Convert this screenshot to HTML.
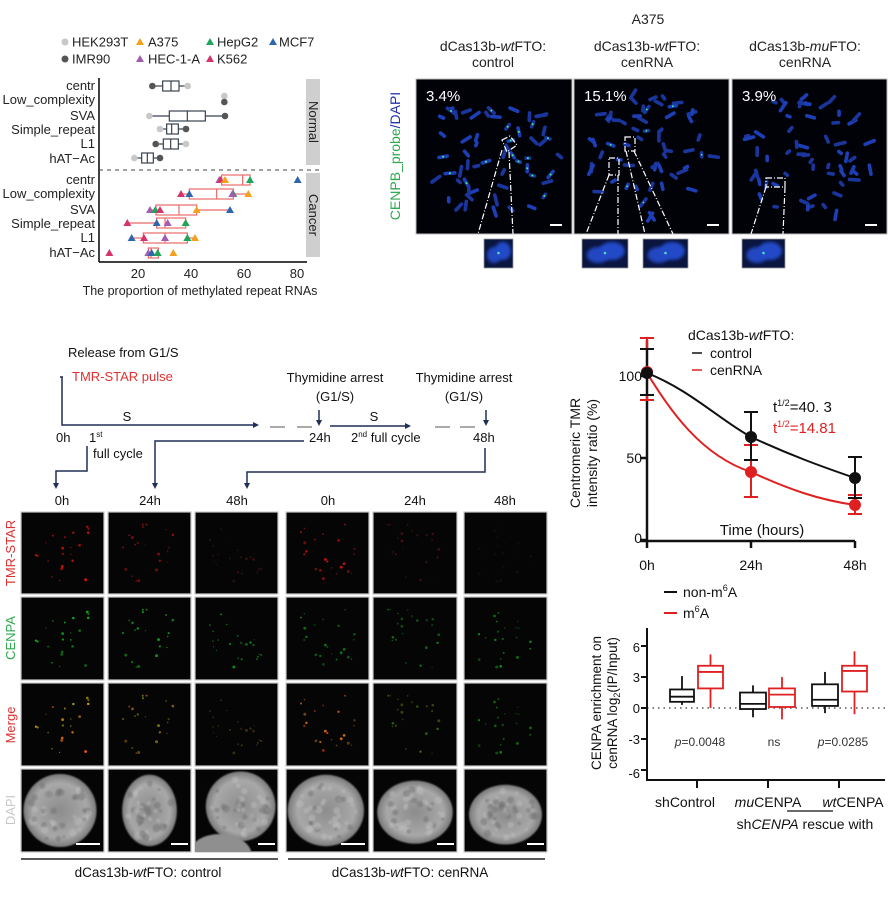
<!DOCTYPE html>
<html><head><meta charset="utf-8">
<style>
html,body{margin:0;padding:0;background:#fff;}
svg{display:block;font-family:"Liberation Sans",Arial,sans-serif;}
</style></head>
<body>
<svg id="s" width="890" height="899" viewBox="0 0 890 899" xmlns="http://www.w3.org/2000/svg">
<defs>
<radialGradient id="nuc" cx="50%" cy="50%" r="50%">
<stop offset="0" stop-color="#8c8c8c"/><stop offset="0.75" stop-color="#a8a8a8"/><stop offset="1" stop-color="#7a7a7a"/>
</radialGradient>
<filter id="bl" x="-20%" y="-20%" width="140%" height="140%"><feGaussianBlur stdDeviation="0.7"/></filter>
<filter id="bl2" x="-50%" y="-50%" width="200%" height="200%"><feGaussianBlur stdDeviation="1.5"/></filter>
</defs>

<!-- ===== Top-left chart ===== -->
<g font-size="13" fill="#222">
<circle cx="65" cy="42" r="3.5" fill="#c8c8c8"/><text x="72" y="46.5">HEK293T</text>
<polygon points="140,38 144,45 136,45" fill="#f5a11c"/><text x="148" y="46.5">A375</text>
<polygon points="210,38 214,45 206,45" fill="#1fa55a"/><text x="217" y="46.5">HepG2</text>
<polygon points="273,38 277,45 269,45" fill="#2f66b0"/><text x="279" y="46.5">MCF7</text>
<circle cx="65" cy="59" r="3.5" fill="#555"/><text x="72" y="63.5">IMR90</text>
<polygon points="140,55 144,62 136,62" fill="#a25cb0"/><text x="148" y="63.5">HEC-1-A</text>
<polygon points="210,55 214,62 206,62" fill="#d6336c"/><text x="217" y="63.5">K562</text>
</g>
<g id="tl"></g>
<line x1="99" y1="78" x2="99" y2="262" stroke="#000" stroke-width="1.5"/>
<line x1="99" y1="262" x2="307" y2="262" stroke="#000" stroke-width="1.5"/>
<line x1="99" y1="170" x2="320" y2="170" stroke="#444" stroke-dasharray="4,4"/>
<rect x="306" y="79" width="14" height="86" fill="#cfcfcf"/>
<rect x="306" y="173" width="14" height="84" fill="#cfcfcf"/>
<text transform="translate(309,122) rotate(90)" text-anchor="middle" font-size="13" fill="#222">Normal</text>
<text transform="translate(309,215) rotate(90)" text-anchor="middle" font-size="13" fill="#222">Cancer</text>
<g font-size="13" fill="#222" text-anchor="end">
<text x="95" y="90">centr</text><text x="95" y="104">Low_complexity</text><text x="95" y="120">SVA</text>
<text x="95" y="134">Simple_repeat</text><text x="95" y="148">L1</text><text x="95" y="163">hAT−Ac</text>
<text x="95" y="184">centr</text><text x="95" y="198">Low_complexity</text><text x="95" y="214">SVA</text>
<text x="95" y="228">Simple_repeat</text><text x="95" y="242">L1</text><text x="95" y="257">hAT−Ac</text>
</g>
<g font-size="13" fill="#222" text-anchor="middle">
<text x="138" y="278">20</text><text x="191" y="278">40</text><text x="244" y="278">60</text><text x="297" y="278">80</text>
<text x="200" y="295" font-size="12.5">The proportion of methylated repeat RNAs</text>
</g>

<!-- ===== Top-right microscopy ===== -->
<g font-size="14" fill="#222" text-anchor="middle">
<text x="648" y="24">A375</text>
<text x="493" y="51">dCas13b-<tspan font-style="italic">wt</tspan>FTO:</text><text x="493" y="67">control</text>
<text x="647" y="51">dCas13b-<tspan font-style="italic">wt</tspan>FTO:</text><text x="647" y="67">cenRNA</text>
<text x="805" y="51">dCas13b-<tspan font-style="italic">mu</tspan>FTO:</text><text x="805" y="67">cenRNA</text>
</g>
<text transform="translate(400,156) rotate(-90)" text-anchor="middle" font-size="14"><tspan fill="#2fa84f">CENPB_probe</tspan><tspan fill="#2233aa">/DAPI</tspan></text>
<g id="tr"></g>

<!-- ===== Timeline schematic ===== -->
<g font-size="13" fill="#111">
<text x="68" y="357">Release from G1/S</text>
<text x="72" y="381" fill="#e03030">TMR-STAR pulse</text>
<text x="335" y="382" text-anchor="middle">Thymidine arrest</text>
<text x="335" y="401" text-anchor="middle">(G1/S)</text>
<text x="464" y="382" text-anchor="middle">Thymidine arrest</text>
<text x="464" y="401" text-anchor="middle">(G1/S)</text>
<text x="127" y="421" text-anchor="middle">S</text>
<text x="374" y="421" text-anchor="middle">S</text>
<text x="56" y="442">0h</text>
<text x="89" y="442">1<tspan font-size="8" dy="-5">st</tspan></text>
<text x="93" y="458">full cycle</text>
<text x="309" y="442">24h</text>
<text x="351" y="442">2<tspan font-size="8" dy="-5">nd</tspan><tspan dy="5">  full cycle</tspan></text>
<text x="473" y="442">48h</text>
</g>
<g stroke="#1f2f55" stroke-width="1.5" fill="none">
<path d="M60 377 H63 M62 377 V425 H256"/>
<path d="M330 426 H408"/>
<path d="M319 410 V423"/><path d="M486 410 V423"/>
<path d="M87 446 V471 H56 V485"/>
<path d="M304 441 H155 V485"/>
<path d="M485 448 V472 H247 V485"/>
</g>
<g fill="#1f2f55">
<polygon points="259,425 253,422 253,428"/><polygon points="411,426 405,423 405,429"/>
<polygon points="319,426 316,420 322,420"/><polygon points="486,426 483,420 489,420"/>
<polygon points="56,489 53,483 59,483"/><polygon points="155,489 152,483 158,483"/><polygon points="247,489 244,483 250,483"/>
</g>
<g stroke="#aaa" stroke-width="2"><line x1="270" y1="427" x2="285" y2="427"/><line x1="297" y1="427" x2="312" y2="427"/><line x1="435" y1="427" x2="450" y2="427"/><line x1="460" y1="427" x2="475" y2="427"/></g>
<g font-size="13" fill="#111" text-anchor="middle">
<text x="62" y="505">0h</text><text x="150" y="505">24h</text><text x="237" y="505">48h</text>
<text x="328" y="505">0h</text><text x="415" y="505">24h</text><text x="505" y="505">48h</text>
</g>
<g font-size="13" text-anchor="middle">
<text transform="translate(15,553) rotate(-90)" fill="#e03030">TMR-STAR</text>
<text transform="translate(15,638) rotate(-90)" fill="#2fa84f">CENPA</text>
<text transform="translate(15,725) rotate(-90)" fill="#e03030">Merge</text>
<text transform="translate(15,810) rotate(-90)" fill="#c8c8c8">DAPI</text>
</g>
<g id="grid"></g>
<line x1="21" y1="859" x2="278" y2="859" stroke="#222" stroke-width="1.5"/>
<line x1="288" y1="859" x2="545" y2="859" stroke="#222" stroke-width="1.5"/>
<g font-size="13.5" fill="#111" text-anchor="middle">
<text x="148" y="877">dCas13b-<tspan font-style="italic">wt</tspan>FTO:  control</text>
<text x="410" y="877">dCas13b-<tspan font-style="italic">wt</tspan>FTO:  cenRNA</text>
</g>

<!-- ===== Right: decay chart ===== -->
<g font-size="14" fill="#111">
<text x="688" y="340">dCas13b-<tspan font-style="italic">wt</tspan>FTO:</text>
<line x1="692" y1="353" x2="702" y2="353" stroke="#111" stroke-width="1.5"/><text x="710" y="358">control</text>
<line x1="692" y1="370" x2="702" y2="370" stroke="#e02020" stroke-width="1.5"/><text x="710" y="375">cenRNA</text>
<text x="773" y="412" font-size="15">t<tspan font-size="9" dy="-6">1/2</tspan><tspan dy="6">=40. 3</tspan></text>
<text x="773" y="433" font-size="15" fill="#e02020">t<tspan font-size="9" dy="-6">1/2</tspan><tspan dy="6">=14.81</tspan></text>
<text x="762" y="535" text-anchor="middle" font-size="15">Time (hours)</text>
<text x="642" y="381" text-anchor="end">100</text><text x="642" y="463" text-anchor="end">50</text><text x="642" y="543" text-anchor="end">0</text>
<text x="647" y="570" text-anchor="middle">0h</text><text x="751" y="570" text-anchor="middle">24h</text><text x="855" y="570" text-anchor="middle">48h</text>
<text transform="translate(580,453) rotate(-90)" text-anchor="middle">Centromeric TMR</text>
<text transform="translate(597,453) rotate(-90)" text-anchor="middle">intensity ratio (%)</text>
</g>
<g stroke="#111" stroke-width="2.5">
<line x1="647" y1="340" x2="647" y2="548"/><line x1="640" y1="541" x2="855" y2="541"/>
<line x1="640" y1="376" x2="647" y2="376"/><line x1="640" y1="458" x2="647" y2="458"/><line x1="640" y1="540" x2="647" y2="540"/>
<line x1="751" y1="541" x2="751" y2="548"/><line x1="855" y1="541" x2="855" y2="548"/>
</g>
<path d="M647 373 C690 390 720 420 751 437 C790 455 820 466 855 478" stroke="#111" stroke-width="2" fill="none"/>
<path d="M647 373 C670 410 700 455 751 472 C790 490 820 500 855 505" stroke="#e02020" stroke-width="2" fill="none"/>
<g stroke="#e02020" stroke-width="2">
<line x1="647" y1="338" x2="647" y2="400"/><line x1="640" y1="338" x2="654" y2="338"/><line x1="640" y1="400" x2="654" y2="400"/>
<line x1="751" y1="445" x2="751" y2="497"/><line x1="744" y1="445" x2="758" y2="445"/><line x1="744" y1="497" x2="758" y2="497"/>
<line x1="855" y1="495" x2="855" y2="514"/><line x1="848" y1="495" x2="862" y2="495"/><line x1="848" y1="514" x2="862" y2="514"/>
</g>
<g stroke="#111" stroke-width="2">
<line x1="647" y1="349" x2="647" y2="395"/><line x1="640" y1="349" x2="654" y2="349"/><line x1="640" y1="395" x2="654" y2="395"/>
<line x1="751" y1="412" x2="751" y2="460"/><line x1="744" y1="412" x2="758" y2="412"/><line x1="744" y1="460" x2="758" y2="460"/>
<line x1="855" y1="457" x2="855" y2="498"/><line x1="848" y1="457" x2="862" y2="457"/><line x1="848" y1="498" x2="862" y2="498"/>
</g>
<circle cx="647" cy="372" r="6" fill="#e02020"/><circle cx="751" cy="472" r="6" fill="#e02020"/><circle cx="855" cy="505" r="6" fill="#e02020"/>
<circle cx="647" cy="373" r="6" fill="#111"/><circle cx="751" cy="437" r="6" fill="#111"/><circle cx="855" cy="478" r="6" fill="#111"/>

<!-- ===== Right: box chart ===== -->
<g font-size="14" fill="#111">
<line x1="664" y1="592" x2="677" y2="592" stroke="#111" stroke-width="2"/><text x="683" y="597">non-m<tspan font-size="9" dy="-6">6</tspan><tspan dy="6">A</tspan></text>
<line x1="664" y1="613" x2="677" y2="613" stroke="#e02020" stroke-width="2"/><text x="683" y="618">m<tspan font-size="9" dy="-6">6</tspan><tspan dy="6">A</tspan></text>
<g text-anchor="end" font-size="13"><text x="640" y="652">6</text><text x="640" y="682">3</text><text x="640" y="713">0</text><text x="640" y="744">-3</text><text x="640" y="778">-6</text></g>
<text transform="translate(601,703) rotate(-90)" text-anchor="middle" font-size="13.5">CENPA enrichment on</text>
<text transform="translate(617,703) rotate(-90)" text-anchor="middle" font-size="13.5">cenRNA  log<tspan font-size="9" dy="3">2</tspan><tspan dy="-3">(IP/Input)</tspan></text>
<g font-size="12" text-anchor="middle" fill="#333"><text x="700" y="746"><tspan font-style="italic">p</tspan>=0.0048</text><text x="774" y="746">ns</text><text x="843" y="746"><tspan font-style="italic">p</tspan>=0.0285</text></g>
<g font-size="14" text-anchor="middle"><text x="685" y="807">shControl</text><text x="768" y="807"><tspan font-style="italic">mu</tspan>CENPA</text><text x="853" y="807"><tspan font-style="italic">wt</tspan>CENPA</text>
<text x="805" y="829">sh<tspan font-style="italic">CENPA</tspan> rescue with</text></g>
</g>
<line x1="787" y1="811" x2="833" y2="811" stroke="#111" stroke-width="1.2"/>
<line x1="647" y1="708" x2="885" y2="708" stroke="#555" stroke-width="1.5" stroke-dasharray="1.5,4"/>
<g stroke="#111" stroke-width="2">
<line x1="647" y1="628" x2="647" y2="781"/><line x1="646" y1="780" x2="885" y2="780"/>
<line x1="641" y1="646" x2="647" y2="646"/><line x1="641" y1="677" x2="647" y2="677"/><line x1="641" y1="708" x2="647" y2="708"/><line x1="641" y1="739" x2="647" y2="739"/><line x1="641" y1="770" x2="647" y2="770"/>
<line x1="697" y1="780" x2="697" y2="788"/><line x1="768" y1="780" x2="768" y2="788"/><line x1="839" y1="780" x2="839" y2="788"/>
</g>
<g id="bx"></g>

<script>
(function(){
var NS="http://www.w3.org/2000/svg";
function el(p,t,a){var e=document.createElementNS(NS,t);for(var k in a)e.setAttribute(k,a[k]);p.appendChild(e);return e;}
var seed=7;function r(){seed=(seed*16807)%2147483647;return (seed-1)/2147483646;}
var defs=document.querySelector('defs');var cid=0;
function clip(x,y,w,h){var id='c'+(cid++);var cp=el(defs,'clipPath',{id:id});el(cp,'rect',{x:x,y:y,width:w,height:h});return 'url(#'+id+')';}
// top-left boxes
var tl=document.getElementById('tl');
function X(v){return v/3;}
var normal=[[86,457,563,488,537,513,[[457,'#555','c'],[563,'#c8c8c8','c']]],
[99,0,0,0,0,0,[[673,'#c8c8c8','c',96],[673,'#555','c',102]]],
[116,448,675,508,616,562,[[448,'#c8c8c8','c'],[675,'#555','c']]],
[129,480,558,500,535,515,[[480,'#c8c8c8','c'],[558,'#555','c']]],
[144,467,558,490,535,512,[[467,'#555','c'],[558,'#c8c8c8','c']]],
[158,403,480,425,460,442,[[403,'#c8c8c8','c'],[480,'#555','c']]]];
var P='#a25cb0',K='#d6336c',O='#f5a11c',G='#1fa55a',B='#2f66b0';
var cancer=[[180,658,750,665,750,728,[[658,P],[662,K],[675,O],[750,G],[893,B]]],
[194,540,745,568,700,650,[[543,K],[568,B],[700,G],[697,P],[745,O]]],
[210,450,690,468,590,537,[[450,P],[466,G],[480,K],[590,O],[690,B]]],
[223,380,557,470,557,495,[[382,K],[470,B],[503,P],[557,O],[557,G]]],
[238,395,585,430,562,495,[[395,B],[432,K],[495,P],[562,G],[585,O]]],
[253,445,475,445,475,453,[[328,K],[445,P],[455,B],[473,G],[520,O]]]];
function box(d,col){var y=d[0];if(d[1]){
el(tl,'line',{x1:X(d[1]),x2:X(d[3]),y1:y,y2:y,stroke:col,'stroke-width':1.2});
el(tl,'line',{x1:X(d[4]),x2:X(d[2]),y1:y,y2:y,stroke:col,'stroke-width':1.2});
el(tl,'rect',{x:X(d[3]),y:y-5,width:X(d[4]-d[3]),height:10,fill:'none',stroke:col,'stroke-width':1.2});
el(tl,'line',{x1:X(d[5]),x2:X(d[5]),y1:y-5,y2:y+5,stroke:col,'stroke-width':1.2});}
d[6].forEach(function(p){var px=X(p[0]),py=p[3]||y;
if(p[2]=='c')el(tl,'circle',{cx:px,cy:py,r:3.3,fill:p[1]});
else el(tl,'polygon',{points:(px)+','+(py-4)+' '+(px+4)+','+(py+3)+' '+(px-4)+','+(py+3),fill:p[1]});});}
normal.forEach(function(d){box(d,'#3a4250');});
cancer.forEach(function(d){box(d,'#e86a6a');});
// top-right microscopy
var tr=document.getElementById('tr');
var pans=[[416,572],[574,729],[732,887]];var pct=['3.4%','15.1%','3.9%'];
pans.forEach(function(p,i){var w=p[1]-p[0];
el(tr,'rect',{x:p[0],y:79,width:w,height:155,fill:'#010208',stroke:'#bbb','stroke-width':1});
var cg=el(tr,'g',{'clip-path':clip(p[0],79,w,155)});
var cx=p[0]+w/2,cy=79+77;
for(var k=0;k<58;k++){var a=r()*6.283,rr=Math.sqrt(r())*62;var x=cx+Math.cos(a)*rr*1.1,y=cy+Math.sin(a)*rr*1.05;
var L=3+r()*7,an=r()*180;
el(cg,'line',{x1:x-L/2,y1:y,x2:x+L/2,y2:y,stroke:(r()<0.5?'#1d3fb5':'#1a369c'),'stroke-width':3.6,'stroke-linecap':'round',transform:'rotate('+an+' '+x+' '+y+')'});
if(i==0&&r()<0.35)el(cg,'circle',{cx:x,cy:y,r:1,fill:'#4e8'});
if(i==1&&r()<0.08)el(cg,'circle',{cx:x,cy:y,r:0.9,fill:'#4e8'});}
var t=el(tr,'text',{x:p[0]+10,y:101,fill:'#fff','font-size':15});t.textContent=pct[i];
el(tr,'rect',{x:p[1]-22,y:224,width:12,height:2,fill:'#fff'});});
var insets=[[484,513],[582,628],[643,688],[742,785]];
insets.forEach(function(q){el(tr,'rect',{x:q[0],y:239,width:q[1]-q[0],height:29,fill:'#0a1540',stroke:'#999','stroke-width':0.8});
var cg=el(tr,'g',{'clip-path':clip(q[0],239,q[1]-q[0],29)});
var w=q[1]-q[0];
el(cg,'ellipse',{cx:q[0]+w*0.35,cy:255,rx:w*0.25,ry:8,fill:'#2246c0',filter:'url(#bl2)'});
el(cg,'ellipse',{cx:q[0]+w*0.65,cy:251,rx:w*0.28,ry:9,fill:'#2448c8',filter:'url(#bl2)'});
el(cg,'circle',{cx:q[0]+w/2,cy:253,r:1.3,fill:'#5db'});});
var ws={stroke:'#fff','stroke-width':1.2,fill:'none','stroke-dasharray':'6,2,1,2'};
function wl(d){var a={d:d};for(var k in ws)a[k]=ws[k];el(tr,'path',a);}
wl('M502 140 L510 136 L517 145 L507 152 Z');wl('M502 150 L478 234 M509 152 L513 234');
wl('M609 158 L619 158 L619 175 L609 175 Z');wl('M609 175 L586 234 M618 175 L618 234');
wl('M625 137 L635 137 L635 151 L625 151 Z');wl('M626 151 L645 234 M634 151 L673 234');
wl('M766 178 L785 178 L785 187 L766 187 Z');wl('M766 187 L751 234 M785 187 L783 234');
// bottom grid
var g=document.getElementById('grid');
var cols=[[21,104],[108,191],[195,278],[286,369],[373,457],[464,547]];
var rows=[[512,594],[597,680],[683,766],[769,852]];
var ti=[0.9,0.55,0.25,0.8,0.3,0.08];var gi=[0.8,0.75,0.6,0.5,0.5,0.55];
cols.forEach(function(c,ci){rows.forEach(function(rw,ri){var w=c[1]-c[0],h=rw[1]-rw[0];
el(g,'rect',{x:c[0],y:rw[0],width:w,height:h,fill:'#050505',stroke:'#c8c8c8','stroke-width':1.2});
var cg=el(g,'g',{'clip-path':clip(c[0],rw[0],w,h)});
var cx=c[0]+w/2,cy=rw[0]+h/2;
if(ri<3){seed=1000+ci*37;
for(var k=0;k<22;k++){var x=cx+(r()-0.5)*w*0.65,y=cy+(r()-0.5)*h*0.7,sz=0.6+r()*0.9;
var col;var tr_=ti[ci]*(0.4+r()*0.7),gr=gi[ci]*(0.4+r()*0.7);
if(ri==0)col='rgb('+Math.round(230*tr_)+',15,15)';
else if(ri==1)col='rgb(15,'+Math.round(220*gr)+',25)';
else{var rr2=Math.round(230*tr_),gg=Math.round(200*gr*(ci>=4?1:Math.min(1,tr_+0.3)));col='rgb('+rr2+','+gg+',15)';}
el(cg,'circle',{cx:x,cy:y,r:sz,fill:col});}}
else{
var nx=[[0.47,0.5,0.44,0.44],[0.5,0.5,0.33,0.43],[0.55,0.45,0.42,0.42],[0.48,0.5,0.46,0.43],[0.5,0.52,0.45,0.38],[0.5,0.55,0.44,0.36]][ci];
var ex=c[0]+w*nx[0],ey=rw[0]+h*nx[1];
el(cg,'ellipse',{cx:ex,cy:ey,rx:w*nx[2],ry:h*nx[3],fill:'url(#nuc)',filter:'url(#bl)'});
seed=500+ci*11;
for(var k=0;k<40;k++){var a=r()*6.283,rr=Math.sqrt(r())*0.85;el(cg,'circle',{cx:ex+Math.cos(a)*rr*w*nx[2],cy:ey+Math.sin(a)*rr*h*nx[3],r:1.5+r()*2.5,fill:(r()<0.45?'#6e6e6e':'#c0c0c0'),opacity:0.45,filter:'url(#bl)'});}
if(ci==2)el(cg,'ellipse',{cx:c[0]+25,cy:rw[1]+4,rx:32,ry:22,fill:'#8f8f8f',filter:'url(#bl)'});
el(g,'rect',{x:c[1]-(ci==0||ci==3?28:20),y:rw[1]-9,width:(ci==0||ci==3?24:17),height:2,fill:'#fff'});}
});});
// box chart
var bx=document.getElementById('bx');function Y(v){return 708-10.3*v;}
var bd=[[670,694,0.3,3.1,0.6,1.8,1.1,'#111'],[698,723,0,5.2,1.9,4.1,3.5,'#e02020'],
[740,766,-0.9,2.2,-0.1,1.5,0.4,'#111'],[769,795,-1.1,3.0,0.1,1.9,1.3,'#e02020'],
[812,838,-0.5,3.5,0.2,2.3,0.8,'#111'],[842,867,-0.6,5.5,1.6,4.1,3.6,'#e02020']];
bd.forEach(function(b){var m=(b[0]+b[1])/2;
el(bx,'line',{x1:m,x2:m,y1:Y(b[3]),y2:Y(b[2]),stroke:b[7],'stroke-width':1.8});
el(bx,'rect',{x:b[0],y:Y(b[5]),width:b[1]-b[0],height:Y(b[4])-Y(b[5]),fill:'#fff',stroke:b[7],'stroke-width':1.8});
el(bx,'line',{x1:b[0],x2:b[1],y1:Y(b[6]),y2:Y(b[6]),stroke:b[7],'stroke-width':1.8});});
})();
</script>
</svg>
</body></html>
